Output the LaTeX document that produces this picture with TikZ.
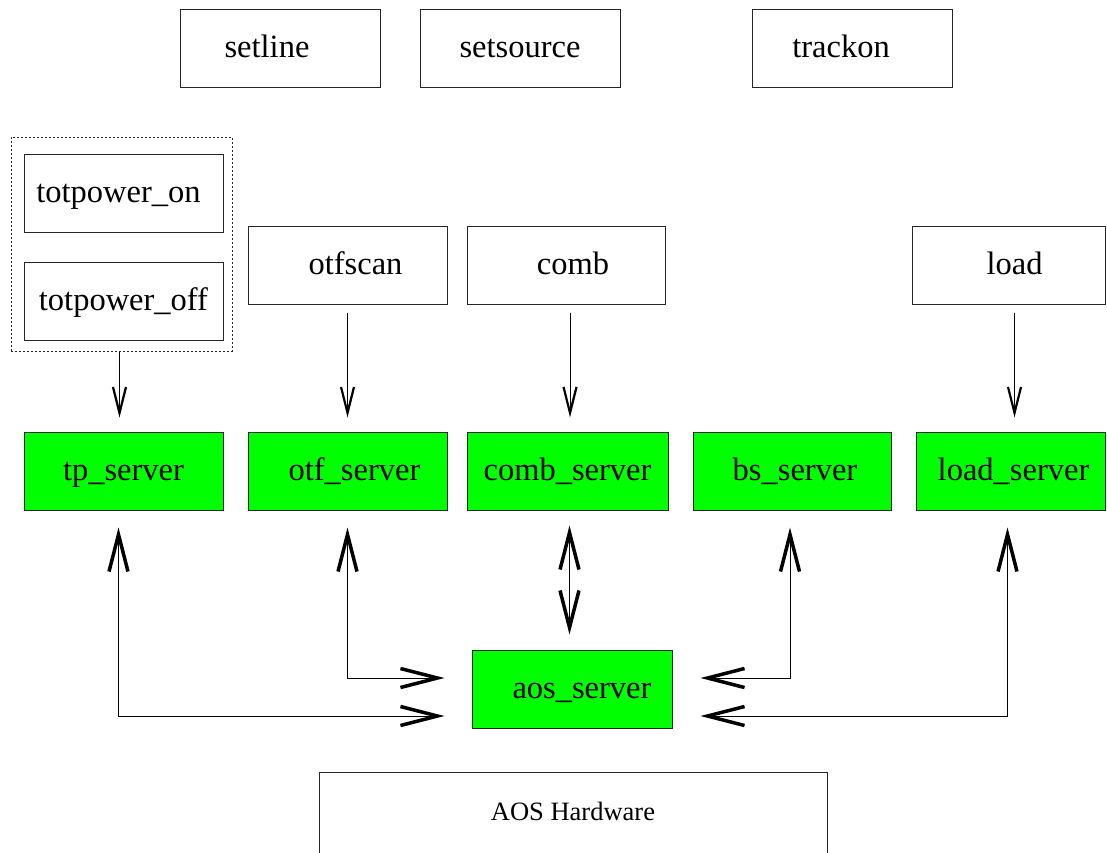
\documentclass[tikz,border=0pt]{standalone}
\usepackage{fontspec}
\setmainfont{Liberation Serif}
\usetikzlibrary{arrows.meta,positioning}

\tikzset{
  box/.style={draw=black!85, line width=1pt, minimum width=199pt, minimum height=78pt,
    inner sep=0pt, text height=24pt, text depth=6pt, font=\fontsize{32.5}{38}\selectfont},
  server/.style={box, fill=green},
  tx/.style={execute at begin node=\hspace*{#1}},
  cmd/.style={-{Straight Barb[length=26pt,width=13pt,line width=2.2pt]}, line width=1pt},
  link/.style={{Straight Barb[length=37pt,width=19pt,line width=3.5pt]}-{Straight Barb[length=37pt,width=19pt,line width=3.5pt]}, line width=1pt},
}

\begin{document}
\begin{tikzpicture}[x=1pt,y=-1pt]
  \useasboundingbox (0,0) rectangle (1107,852);
  % commands on top
  \node[box, minimum width=200pt, tx=-26pt] (setline) at (280,48.5) {setline};
  \node[box, minimum width=200pt] (setsource) at (520,48.5) {setsource};
  \node[box, minimum width=200pt, tx=-22pt] (trackon) at (852,48.5) {trackon};
  % total power group
  \node[draw=black!85, line width=1pt, dash pattern=on 2pt off 2pt, minimum width=221pt,
    minimum height=214pt, inner sep=0pt] (grp) at (121.5,244) {};
  \node[box, tx=-10pt] (tpon) at (123.5,193) {totpower\_on};
  \node[box] (tpoff) at (123.5,301) {totpower\_off};
  \node[box, tx=16pt] (otfscan) at (347.5,265) {otfscan};
  \node[box, minimum width=198pt, tx=14pt] (comb) at (566,265) {comb};
  \node[box, minimum width=193pt, tx=12pt] (load) at (1008.5,265) {load};
  % servers
  \node[server] (tp) at (123.5,471) {tp\_server};
  \node[server, tx=14pt] (otf) at (347.5,471) {otf\_server};
  \node[server, minimum width=201pt] (combs) at (567.5,471) {comb\_server};
  \node[server, minimum width=198pt, tx=6pt] (bs) at (792,471) {bs\_server};
  \node[server, minimum width=189pt, tx=6pt] (loads) at (1010.5,471) {load\_server};
  \node[server, minimum width=200pt, tx=20pt] (aos) at (572,689) {aos\_server};
  \node[box, minimum width=508pt, minimum height=82pt, text height=20pt, text depth=5pt,
    font=\fontsize{26.5}{30}\selectfont] (hw) at (573,813) {AOS Hardware};
  % command arrows
  \draw[cmd, shorten >=14pt] ([xshift=-2pt]grp.south) -- ([xshift=-2pt]grp.south |- tp.north);
  \draw[cmd, shorten <=8pt, shorten >=14pt] (otfscan.south) -- (otfscan.south |- otf.north);
  \draw[cmd, shorten <=8pt, shorten >=14pt] ([xshift=4pt]comb.south) -- ([xshift=4pt]comb.south |- combs.north);
  \draw[cmd, shorten <=8pt, shorten >=14pt] ([xshift=6pt]load.south) -- ([xshift=6pt]load.south |- loads.north);
  % links to aos_server
  \draw[link, shorten <=15pt, shorten >=15pt] ([xshift=2pt]combs.south) -- ([xshift=2pt]combs.south |- aos.north);
  \draw[link, shorten <=17pt, shorten >=27pt] (otf.south) |- ([yshift=11pt]aos.west);
  \draw[link, shorten <=17pt, shorten >=27pt] ([xshift=-5pt]tp.south) |- ([yshift=-27pt]aos.west);
  \draw[link, shorten <=17pt, shorten >=28pt] ([xshift=-2pt]bs.south) |- ([yshift=11pt]aos.east);
  \draw[link, shorten <=17pt, shorten >=28pt] ([xshift=-3pt]loads.south) |- ([yshift=-27pt]aos.east);
\end{tikzpicture}
\end{document}
